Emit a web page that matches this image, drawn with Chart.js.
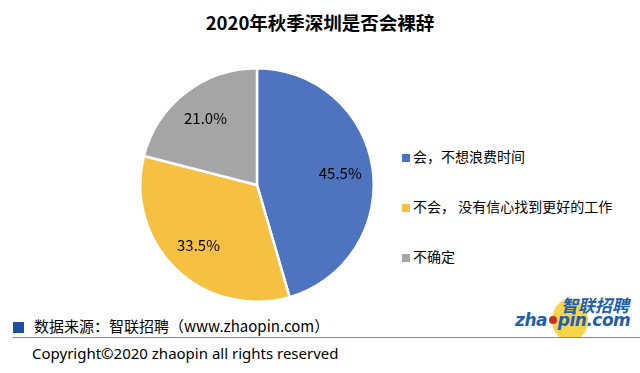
<!DOCTYPE html>
<html>
<head>
<meta charset="utf-8">
<script src="https://cdn.jsdelivr.net/npm/chart.js@4"></script>
<style>
  body { margin: 0; width: 640px; height: 373px; background: #fff; position: relative; overflow: hidden;
         font-family: "Noto Sans CJK SC", "Noto Sans", sans-serif; color: #000; }
  #title { position: absolute; top: 9px; left: 0; width: 640px; text-align: center; font-size: 18.5px; font-weight: bold; }
  #pieBox { position: absolute; left: 139px; top: 67px; width: 236px; height: 236px; }
  .leg { position: absolute; left: 402px; font-size: 14px; line-height: 16px; white-space: nowrap; }
  .leg span { display: inline-block; width: 8px; height: 8px; margin-right: 3px; vertical-align: 0px; }
  #src { position: absolute; left: 13px; top: 317px; font-size: 15px; line-height: 18px; white-space: nowrap; }
  #src span { display: inline-block; width: 11px; height: 11px; background: #1F4E9E; margin-right: 10px; vertical-align: -1px; }
  #rule { position: absolute; left: 13px; top: 337px; width: 627px; height: 1px; background: #888; }
  #copy { position: absolute; left: 32px; top: 343px; font-size: 15px; line-height: 20px; font-family: "Noto Sans", sans-serif; }
  #logo { position: absolute; left: 505px; top: 296px; width: 135px; height: 41px; overflow: hidden; }
  #logo .sun { position: absolute; left: 47px; top: 3px; width: 36px; height: 42px; border-radius: 50%; background: #F7D548; }
  #logo .dot { position: absolute; left: 44px; top: 20px; width: 8px; height: 8px; border-radius: 50%; background: #C9302C; }
  #logo .cn { position: absolute; left: 56px; top: -1px; font-size: 17px; font-weight: bold; font-style: italic; color: #1F5FAF; line-height: 19px; }
  #logo .en { position: absolute; left: 10px; top: 15px; font-size: 17px; font-weight: bold; font-style: italic; color: #1F5FAF; line-height: 18px; font-family: "DejaVu Sans", sans-serif; letter-spacing: -0.5px; }
</style>
</head>
<body>
<div id="title">2020年秋季深圳是否会裸辞</div>
<div id="pieBox"><canvas id="pie"></canvas></div>
<div id="legend"></div>
<div id="src"><span></span>数据来源：智联招聘（www.zhaopin.com）</div>
<div id="rule"></div>
<div id="copy">Copyright©2020 zhaopin all rights reserved</div>
<div id="logo">
  <div class="sun"></div>
  <div class="cn">智联招聘</div>
  <div class="en">zha&nbsp;&nbsp;pin.com</div>
  <div class="dot"></div>
</div>
<script>
const categories = ['会，不想浪费时间', '不会， 没有信心找到更好的工作', '不确定'];
const shares = [45.5, 33.5, 21.0];
const sliceColors = ['#4E74BF', '#F6C143', '#A5A5A5'];
const legendTops = [148, 198, 248];

// HTML legend
const legendEl = document.getElementById('legend');
categories.forEach((c, i) => {
    const d = document.createElement('div');
    d.className = 'leg';
    d.style.top = legendTops[i] + 'px';
    d.innerHTML = '<span style="background:' + sliceColors[i] + '"></span>' + c;
    legendEl.appendChild(d);
});

// Percent labels inside slices
const sliceLabels = {
    id: 'sliceLabels',
    afterDatasetsDraw(chart) {
        const ctx = chart.ctx;
        const meta = chart.getDatasetMeta(0);
        ctx.save();
        ctx.font = '15px "Noto Sans CJK SC", "Noto Sans", sans-serif';
        ctx.fillStyle = '#000';
        ctx.textAlign = 'center';
        ctx.textBaseline = 'middle';
        meta.data.forEach((arc, i) => {
            const mid = (arc.startAngle + arc.endAngle) / 2;
            const r = arc.outerRadius * 0.72;
            ctx.fillText(shares[i].toFixed(1) + '%', arc.x + Math.cos(mid) * r, arc.y + Math.sin(mid) * r);
        });
        ctx.restore();
    }
};

new Chart(document.getElementById('pie'), {
    type: 'pie',
    data: {
        labels: categories,
        datasets: [{
            data: shares,
            backgroundColor: sliceColors,
            borderColor: '#fff',
            borderWidth: 2.5
        }]
    },
    options: {
        responsive: true,
        maintainAspectRatio: false,
        animation: false,
        layout: { padding: 0 },
        plugins: {
            legend: { display: false },
            tooltip: { enabled: false }
        }
    },
    plugins: [sliceLabels]
});
</script>
</body>
</html>
